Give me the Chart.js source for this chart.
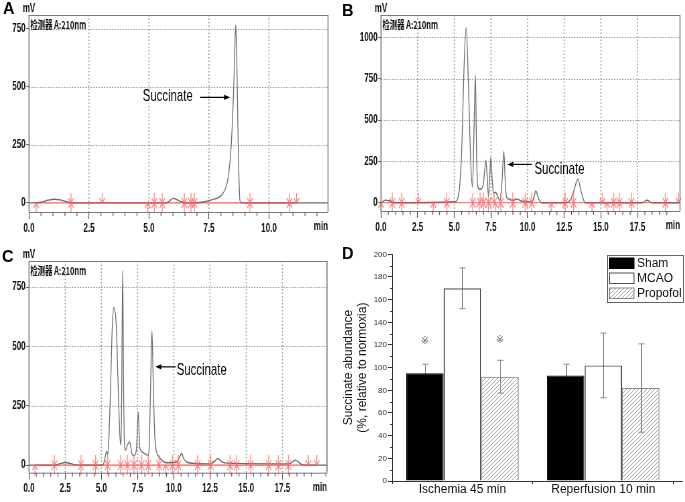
<!DOCTYPE html>
<html>
<head>
<meta charset="utf-8">
<script src="https://cdn.jsdelivr.net/npm/chart.js@4.4.1/dist/chart.umd.min.js"></script>
<style>
body { margin: 0; background: #fff; }
#fig { position: relative; width: 685px; height: 502px; overflow: hidden; background: #fff; }
#fig canvas { position: absolute; }
.cond { transform: scaleX(0.67); transform-origin: 0 0; }
.tag { position: absolute; font: bold 16px "Liberation Sans", Arial, sans-serif; color: #000; }
</style>
</head>
<body>
<div id="fig">
  <canvas id="chartA" class="cond"></canvas>
  <canvas id="chartB" class="cond"></canvas>
  <canvas id="chartC" class="cond"></canvas>
  <canvas id="chartD"></canvas>
  <div class="tag" style="left:3px;top:0px">A</div>
  <div class="tag" style="left:342px;top:2px">B</div>
  <div class="tag" style="left:2px;top:248px">C</div>
  <div class="tag" style="left:342px;top:245px">D</div>
</div>
<script>
// chromatogram traces: [time (min), signal (mV)]
const traceA = [[0,0],[0.5,3],[0.8,12],[1.05,16],[1.35,12],[1.65,3],[1.9,0],[5.7,0],[5.85,8],[6.0,20],[6.2,12],
  [6.4,3],[6.6,0],[7.2,3],[7.61,13],[8.03,34],[8.24,78],[8.33,135],[8.40,207],[8.47,336],[8.53,494],[8.57,638],
  [8.61,765],[8.65,667],[8.72,237],[8.79,10],[8.86,0],[12.46,0]];
const traceB = [[0,0],[0.1,5],[0.3,16],[0.55,12],[0.8,3],[1.0,0],[5.05,6],[5.35,87],[5.51,330],[5.67,830],[5.81,1060],
  [5.96,730],[6.12,250],[6.24,95],[6.36,500],[6.44,775],[6.52,300],[6.6,100],[6.75,80],[6.95,100],[7.05,170],[7.15,258],
  [7.25,150],[7.33,40],[7.42,160],[7.49,275],[7.58,150],[7.67,60],[7.83,62],[8.0,30],[8.13,15],[8.25,120],[8.38,309],
  [8.48,120],[8.58,30],[9.04,15],[9.27,22],[9.6,10],[10.3,5],[10.45,40],[10.56,71],[10.75,25],[10.97,0],[12.6,0],
  [12.9,15],[13.15,70],[13.43,143],[13.65,70],[13.93,0],[17.8,0],[18.15,15],[18.5,0],[20.4,0]];
const traceC = [[0,0],[1.8,0],[2.1,5],[2.49,11],[2.9,6],[3.3,0],[5.1,0],[5.25,30],[5.36,59],[5.45,45],[5.52,119],
  [5.64,344],[5.75,583],[5.87,665],[6.03,583],[6.15,344],[6.28,119],[6.35,85],[6.4,300],[6.47,819],[6.53,350],
  [6.58,110],[6.67,63],[6.8,85],[6.95,98],[7.1,50],[7.25,40],[7.41,63],[7.55,222],[7.64,77],[7.8,56],[7.95,50],
  [8.1,45],[8.22,40],[8.29,63],[8.4,344],[8.49,566],[8.58,344],[8.70,105],[8.98,35],[9.5,10],[10.2,12],[10.4,35],
  [10.54,49],[10.7,25],[11.0,10],[12.5,5],[12.8,15],[13.03,28],[13.3,15],[13.7,8],[18.0,5],[18.37,21],[18.95,0],[20.6,0]];

// integration markers (min)
const marksDownA = [1.75, 3.05, 5.22, 5.55, 6.47, 6.75, 6.89, 9.21, 10.85, 11.15];
const marksUpA = [0.3, 1.75, 4.95, 5.22, 5.55, 6.47, 6.75, 6.89, 9.21, 10.85];
const marksDownB = [0.77, 1.41, 2.55, 4.48, 6.26, 6.76, 6.99, 7.33, 7.72, 8.17, 8.99, 9.84, 10.29, 12.57, 13.14,
  15.12, 15.87, 16.28, 17.08, 19.4, 20.3];
const marksUpB = [0, 0.77, 1.41, 3.57, 4.5, 6.26, 6.7, 6.99, 7.33, 7.8, 8.17, 8.99, 9.84, 10.29, 11.61, 12.57,
  13.14, 14.39, 15.42, 15.87, 16.28, 17.1, 19.4];
const marksDownC = [1.75, 3.59, 4.6, 5.43, 6.33, 6.79, 7.25, 7.78, 8.24, 8.98, 9.9, 10.31, 11.65, 12.55, 13.88,
  14.34, 15.31, 16.55, 17.22, 17.91, 19.29, 19.87];
const marksUpC = [0.41, 1.75, 3.59, 4.6, 5.43, 6.33, 6.79, 7.25, 7.78, 8.24, 8.98, 9.44, 9.9, 10.31, 11.65,
  12.55, 13.88, 14.34, 15.31, 16.55, 17.22, 17.91];

const xTicksA = [0, 2.5, 5, 7.5, 10];
const xTicksBC = [0, 2.5, 5, 7.5, 10, 12.5, 15, 17.5];
const yTicksA = [0, 250, 500, 750];
const yTicksB = [0, 250, 500, 750, 1000];
const yTicksC = [0, 250, 500, 750];

// bar panel
const groups = ['Ischemia 45 min', 'Reperfusion 10 min'];
const sham = [95, 93], shamSd = [8, 10];
const mcao = [170, 102], mcaoSd = [18, 28.5];
const propofol = [92, 82], propofolSd = [14.5, 39];
const yTicksD = [0, 20, 40, 60, 80, 100, 120, 140, 160, 180, 200];

const SQUEEZE = 0.67;
const FONT = '"Liberation Sans", Arial, sans-serif';

const chromPlugin = p => ({
	id: 'chrom',
	beforeDatasetsDraw(chart) {
		// dotted grid
		const { ctx, chartArea: a, scales: { x, y } } = chart;
		ctx.save();
		ctx.strokeStyle = '#9a9a9a';
		ctx.setLineDash([2, 2]);
		ctx.lineWidth = 1;
		ctx.beginPath();
		p.yTicks.forEach(v => {
			if (!v) return;
			const py = Math.round(y.getPixelForValue(v)) + 0.5;
			ctx.moveTo(a.left, py); ctx.lineTo(a.right, py);
		});
		ctx.stroke();
		ctx.setLineDash([1.5, 2]);
		ctx.lineWidth = 1.6;
		ctx.beginPath();
		p.xTicks.forEach(t => {
			if (!t) return;
			const px = x.getPixelForValue(t);
			ctx.moveTo(px, a.top); ctx.lineTo(px, a.bottom);
		});
		ctx.stroke();
		ctx.restore();
	},
	afterDatasetsDraw(chart) {
		const { ctx, scales: { x, y } } = chart;
		const y0 = y.getPixelForValue(0),
			all = p.down.concat(p.up);
		ctx.save();
		ctx.strokeStyle = 'rgba(255,60,60,0.85)';
		ctx.lineWidth = 1.2;
		ctx.beginPath();
		ctx.moveTo(x.getPixelForValue(Math.min(...all)), y0);
		ctx.lineTo(x.getPixelForValue(Math.max(...all)), y0);
		ctx.stroke();

		ctx.strokeStyle = 'rgba(255,100,100,0.75)';
		ctx.lineWidth = 1.4;
		const mark = (t, dir) => {
			const px = x.getPixelForValue(t);
			ctx.beginPath();
			ctx.moveTo(px, y0 + dir * 10);
			ctx.lineTo(px, y0);
			ctx.moveTo(px - 4, y0 + dir * 5);
			ctx.lineTo(px, y0);
			ctx.lineTo(px + 4, y0 + dir * 5);
			ctx.stroke();
		};
		p.down.forEach(t => mark(t, -1));
		p.up.forEach(t => mark(t, 1));
		ctx.restore();
	},
	afterDraw(chart) {
		const { ctx, chartArea: a, scales: { x, y } } = chart;
		ctx.save();
		// frame
		ctx.strokeStyle = '#7a7a7a';
		ctx.lineWidth = 1;
		ctx.beginPath();
		ctx.moveTo(a.left, a.top + 0.5); ctx.lineTo(a.right, a.top + 0.5);
		ctx.moveTo(a.left, a.bottom + 0.5); ctx.lineTo(a.right, a.bottom + 0.5);
		ctx.stroke();
		ctx.lineWidth = 1.5;
		ctx.beginPath();
		ctx.moveTo(a.left, a.top); ctx.lineTo(a.left, a.bottom);
		ctx.moveTo(a.right, a.top); ctx.lineTo(a.right, a.bottom);
		ctx.stroke();

		// minor ticks every 0.5 min
		ctx.strokeStyle = '#555';
		ctx.lineWidth = 1.2;
		ctx.beginPath();
		for (let i = 1; i * 0.5 <= x.max; i++) {
			if (i % 5 === 0) continue;
			const px = x.getPixelForValue(i * 0.5);
			ctx.moveTo(px, a.bottom);
			ctx.lineTo(px, a.bottom + 4);
		}
		ctx.stroke();

		ctx.fillStyle = '#111';
		ctx.font = `bold 12px ${FONT}`;
		ctx.textAlign = 'center';
		ctx.textBaseline = 'alphabetic';
		ctx.fillText('mV', a.left, a.top - 3);
		ctx.textAlign = 'left';
		ctx.font = 'bold 11px "Noto Sans CJK SC", sans-serif';
		ctx.fillText('检测器 A:210nm', a.left + 2, a.top + 14);
		ctx.textAlign = 'right';
		ctx.textBaseline = 'top';
		ctx.font = `bold 12px ${FONT}`;
		ctx.fillText('min', a.right, a.bottom + 9);

		// succinate note
		const n = p.note;
		ctx.fillStyle = '#000';
		ctx.textAlign = 'left';
		ctx.textBaseline = 'alphabetic';
		ctx.font = `17px ${FONT}`;
		ctx.fillText('Succinate', x.getPixelForValue(n.text[0]), y.getPixelForValue(n.text[1]));
		const x1 = x.getPixelForValue(n.from), x2 = x.getPixelForValue(n.to),
			ay = y.getPixelForValue(n.level), dir = Math.sign(x2 - x1);
		ctx.strokeStyle = '#000';
		ctx.lineWidth = 1.2;
		ctx.beginPath();
		ctx.moveTo(x1, ay); ctx.lineTo(x2 - dir * 6, ay);
		ctx.stroke();
		ctx.beginPath();
		ctx.moveTo(x2, ay);
		ctx.lineTo(x2 - dir * 9, ay - 2.6);
		ctx.lineTo(x2 - dir * 9, ay + 2.6);
		ctx.closePath();
		ctx.fill();
		ctx.restore();
	}
});

function chromatogram(id, p) {
	const cv = document.getElementById(id);
	const w = Math.round(p.box.w / SQUEEZE);
	cv.width = w;
	cv.height = p.box.h;
	cv.style.left = p.box.x + 'px';
	cv.style.top = p.box.y + 'px';
	const left = (p.area.l - p.box.x) / SQUEEZE,
		right = (p.area.r - p.box.x) / SQUEEZE,
		top = p.area.t - p.box.y,
		bottom = p.area.b - p.box.y;
	const tickFont = { family: FONT, size: 12, weight: 'bold' };

	new Chart(cv, {
		type: 'scatter',
		data: {
			datasets: [{
				data: p.trace.map(d => ({ x: d[0], y: d[1] })),
				showLine: true,
				borderColor: '#6a6a6a',
				borderWidth: 1.3,
				pointRadius: 0,
				cubicInterpolationMode: 'monotone'
			}]
		},
		options: {
			responsive: false,
			animation: false,
			events: [],
			layout: { padding: { left: 0, top, right: w - right, bottom: 0 } },
			plugins: { legend: { display: false }, tooltip: { enabled: false } },
			scales: {
				x: {
					type: 'linear', min: p.x[0], max: p.x[1],
					afterFit: s => { s.height = p.box.h - bottom; },
					afterBuildTicks: s => { s.ticks = p.xTicks.map(value => ({ value })); },
					border: { display: false },
					grid: { drawOnChartArea: false, tickColor: '#555', tickLength: 7, tickWidth: 1.2 },
					ticks: { font: tickFont, color: '#111', padding: 2, maxRotation: 0, callback: v => v.toFixed(1) }
				},
				y: {
					min: p.y[0], max: p.y[1],
					afterFit: s => { s.width = left; },
					afterBuildTicks: s => { s.ticks = p.yTicks.map(value => ({ value })); },
					border: { display: false },
					grid: { drawOnChartArea: false, tickColor: '#555', tickLength: 4 },
					ticks: { font: tickFont, color: '#111', padding: 1, callback: v => String(v) }
				}
			}
		},
		plugins: [chromPlugin(p)]
	});
}

chromatogram('chartA', {
	box: { x: 0, y: 0, w: 340, h: 240 }, area: { l: 29, r: 328, t: 15, b: 212 },
	x: [0, 12.46], y: [-39, 810], xTicks: xTicksA, yTicks: yTicksA,
	trace: traceA, down: marksDownA, up: marksUpA,
	note: { text: [4.74, 441], from: 7.13, to: 8.38, level: 455 }
});
chromatogram('chartB', {
	box: { x: 340, y: 0, w: 345, h: 240 }, area: { l: 381, r: 680, t: 15, b: 211 },
	x: [0, 20.4], y: [-50, 1136], xTicks: xTicksBC, yTicks: yTicksB,
	trace: traceB, down: marksDownB, up: marksUpB,
	note: { text: [10.47, 174], from: 10.29, to: 8.62, level: 232 }
});
chromatogram('chartC', {
	box: { x: 0, y: 240, w: 340, h: 262 }, area: { l: 29, r: 327, t: 261, b: 472.7 },
	x: [0, 20.58], y: [-32, 860], xTicks: xTicksBC, yTicks: yTicksC,
	trace: traceC, down: marksDownC, up: marksUpC,
	note: { text: [10.2, 379], from: 10.13, to: 8.72, level: 414 }
});

// ---- panel D ----
const makeHatch = () => {
	const c = document.createElement('canvas');
	c.width = c.height = 4;
	const g = c.getContext('2d');
	g.strokeStyle = '#9a9a9a';
	g.lineWidth = 0.8;
	g.beginPath();
	g.moveTo(0, 4); g.lineTo(4, 0);
	g.moveTo(-1, 1); g.lineTo(1, -1);
	g.moveTo(3, 5); g.lineTo(5, 3);
	g.stroke();
	return g.createPattern(c, 'repeat');
};
const hatch = makeHatch();
const spreads = [shamSd, mcaoSd, propofolSd];

const barPlugin = {
	id: 'bars',
	beforeDatasetsDraw(chart) {
		const { ctx, scales: { y } } = chart;
		ctx.save();
		ctx.strokeStyle = '#8a8a8a';
		ctx.lineWidth = 1;
		spreads.forEach((sd, d) => {
			chart.getDatasetMeta(d).data.forEach((bar, i) => {
				const v = chart.data.datasets[d].data[i],
					x = Math.round(bar.x) + 0.5,
					hi = y.getPixelForValue(v + sd[i]),
					lo = y.getPixelForValue(v - sd[i]);
				ctx.beginPath();
				ctx.moveTo(x, hi); ctx.lineTo(x, lo);
				ctx.moveTo(x - 3, hi); ctx.lineTo(x + 3, hi);
				ctx.moveTo(x - 3, lo); ctx.lineTo(x + 3, lo);
				ctx.stroke();
			});
		});
		ctx.restore();
	},
	afterDraw(chart) {
		const { ctx, chartArea: a, scales: { y } } = chart;
		ctx.save();
		// minor y ticks
		ctx.strokeStyle = '#333';
		ctx.lineWidth = 1;
		ctx.beginPath();
		for (let v = 10; v < 200; v += 20) {
			const py = Math.round(y.getPixelForValue(v)) + 0.5;
			ctx.moveTo(a.left - 2, py); ctx.lineTo(a.left, py);
		}
		ctx.moveTo(a.right, Math.round(a.bottom) + 0.5);
		ctx.lineTo(a.right + 9, Math.round(a.bottom) + 0.5);
		ctx.stroke();

		// significance marks
		ctx.fillStyle = '#666';
		ctx.font = '10px "DejaVu Sans", sans-serif';
		ctx.textAlign = 'center';
		ctx.textBaseline = 'middle';
		[[0, 0, 123], [2, 0, 124]].forEach(([d, i, v]) => {
			ctx.fillText('※', chart.getDatasetMeta(d).data[i].x, y.getPixelForValue(v));
		});

		// legend
		const lx = a.right - 66.7, ly = a.top + 0.7;
		ctx.strokeStyle = '#666';
		ctx.strokeRect(lx + 0.5, ly + 0.5, 76, 47);
		ctx.font = `12px ${FONT}`;
		ctx.textAlign = 'left';
		ctx.textBaseline = 'middle';
		chart.data.datasets.forEach((ds, i) => {
			const sy = ly + 3 + i * 15;
			ctx.fillStyle = ds.backgroundColor;
			ctx.fillRect(lx + 2.5, sy, 24.5, 10.5);
			ctx.strokeStyle = ds.borderColor;
			ctx.strokeRect(lx + 2.5, sy, 24.5, 10.5);
			ctx.fillStyle = '#111';
			ctx.fillText(ds.label, lx + 30, sy + 5.5);
		});
		ctx.restore();
	}
};

const cvD = document.getElementById('chartD');
cvD.width = 345;
cvD.height = 262;
cvD.style.left = '340px';
cvD.style.top = '240px';

new Chart(cvD, {
	type: 'bar',
	data: {
		labels: groups,
		datasets: [
			{ label: 'Sham', data: sham, backgroundColor: '#000', borderColor: '#000', borderWidth: 1 },
			{ label: 'MCAO', data: mcao, backgroundColor: 'rgba(255,255,255,0)', borderColor: '#555', borderWidth: 1.2 },
			{ label: 'Propofol', data: propofol, backgroundColor: hatch, borderColor: '#888', borderWidth: 1 }
		]
	},
	options: {
		responsive: false,
		animation: false,
		events: [],
		categoryPercentage: 0.8,
		barPercentage: 1,
		layout: { padding: { left: 0, top: 14.3, right: 11.3, bottom: 0 } },
		plugins: { legend: { display: false }, tooltip: { enabled: false } },
		scales: {
			x: {
				afterFit: s => { s.height = 21; },
				border: { color: '#333', width: 1 },
				grid: { offset: true, drawOnChartArea: false, tickLength: 3, tickColor: '#333' },
				ticks: { font: { family: FONT, size: 12 }, color: '#111', padding: -2 }
			},
			y: {
				min: 0, max: 200,
				afterFit: s => { s.width = 52; },
				afterBuildTicks: s => { s.ticks = yTicksD.map(value => ({ value })); },
				border: { color: '#333', width: 1 },
				grid: { drawOnChartArea: false, tickLength: 4, tickColor: '#333' },
				ticks: { font: { family: FONT, size: 8 }, color: '#333', padding: 1 },
				title: {
					display: true,
					text: ['Succinate abundance', '(%, relative to normoxia)'],
					font: { family: FONT, size: 12 },
					color: '#111',
					padding: { top: 1, bottom: 0 }
				}
			}
		}
	},
	plugins: [barPlugin]
});
</script>
</body>
</html>
